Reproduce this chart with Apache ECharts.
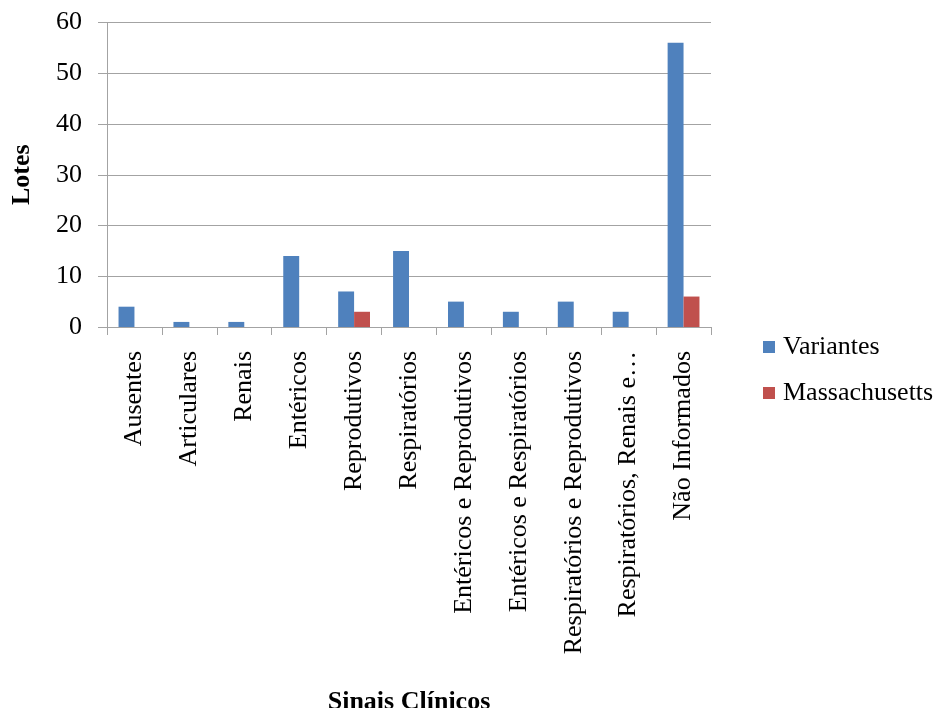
<!DOCTYPE html>
<html>
<head>
<meta charset="utf-8">
<script src="https://cdn.jsdelivr.net/npm/echarts@6/dist/echarts.min.js"></script>
<style>
  html, body { margin: 0; padding: 0; background: #fff; }
  #chart { width: 937px; height: 708px; }
</style>
</head>
<body>
<div id="chart"></div>
<script>
// Clinical signs per batch, by strain group
const categories = [
  'Ausentes', 'Articulares', 'Renais', 'Entéricos', 'Reprodutivos',
  'Respiratórios', 'Entéricos e Reprodutivos', 'Entéricos e Respiratórios',
  'Respiratórios e Reprodutivos', 'Respiratórios, Renais e…', 'Não Informados'
];
const variantes     = [4, 1, 1, 14, 7, 15, 5, 3, 5, 3, 56];
const massachusetts = [0, 0, 0, 0, 3, 0, 0, 0, 0, 0, 6];
const yTicks = { min: 0, max: 60, interval: 10 };

const FONT = "'Liberation Serif', 'Times New Roman', serif";
const GRID_GRAY = '#a3a3a3';

const chart = echarts.init(document.getElementById('chart'), null, { renderer: 'canvas' });

chart.setOption({
  animation: false,
  backgroundColor: '#ffffff',
  textStyle: { fontFamily: FONT, color: '#000' },
  grid: {
    left: 107, right: 226, top: 22.5, bottom: 381,
    containLabel: false,
    outerBoundsMode: 'none'
  },
  legend: {
    orient: 'vertical',
    left: 763,
    top: 334,
    padding: 0,
    itemWidth: 12,
    itemHeight: 12,
    itemGap: 20,
    icon: 'rect',
    textStyle: { fontFamily: FONT, fontSize: 26, color: '#000', padding: [0, 0, 0, 3] },
    data: ['Variantes', 'Massachusetts']
  },
  xAxis: {
    type: 'category',
    data: categories,
    name: 'Sinais Clínicos',
    nameLocation: 'middle',
    nameGap: 362,
    nameTextStyle: { fontFamily: FONT, fontSize: 26, fontWeight: 'bold', color: '#000' },
    axisLine: { show: true, lineStyle: { color: GRID_GRAY, width: 1 } },
    axisTick: { show: true, length: 8, interval: 0, lineStyle: { color: GRID_GRAY } },
    axisLabel: {
      interval: 0,
      rotate: 90,
      margin: 24,
      fontFamily: FONT,
      fontSize: 26,
      color: '#000'
    },
    splitLine: { show: false }
  },
  yAxis: {
    type: 'value',
    min: yTicks.min,
    max: yTicks.max,
    interval: yTicks.interval,
    name: 'Lotes',
    nameLocation: 'middle',
    nameRotate: 90,
    nameGap: 72,
    nameTextStyle: { fontFamily: FONT, fontSize: 26, fontWeight: 'bold', color: '#000' },
    axisLine: { show: true, lineStyle: { color: GRID_GRAY, width: 1 } },
    axisTick: { show: true, length: 9, lineStyle: { color: GRID_GRAY } },
    axisLabel: { margin: 25, fontFamily: FONT, fontSize: 26, color: '#000' },
    splitLine: { show: true, lineStyle: { color: GRID_GRAY, width: 1 } }
  },
  series: [
    {
      name: 'Variantes',
      type: 'bar',
      data: variantes,
      barGap: '0%',
      barCategoryGap: '42%',
      itemStyle: { color: '#4F81BD' }
    },
    {
      name: 'Massachusetts',
      type: 'bar',
      data: massachusetts,
      barGap: '0%',
      barCategoryGap: '42%',
      itemStyle: { color: '#C0504D' }
    }
  ]
});
</script>
</body>
</html>
